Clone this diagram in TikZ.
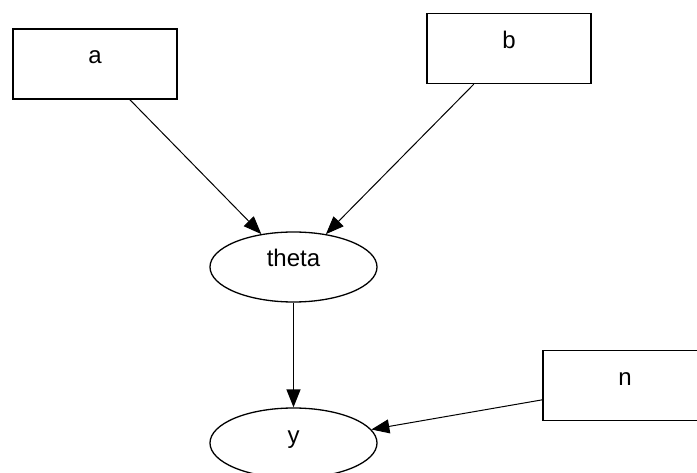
\documentclass[tikz,border=0pt]{standalone}
\usepackage{fontspec}
\setmainfont{Liberation Sans}
\usetikzlibrary{arrows.meta,shapes.geometric}
\tikzset{
  every node/.style={font=\fontsize{24}{28}\selectfont, text height=0pt, text depth=0pt, inner sep=0pt},
  varbox/.style={draw, line width=1.3pt, rectangle, minimum width=164pt, minimum height=70pt},
  varoval/.style={draw, line width=1.3pt, ellipse, minimum width=167pt, minimum height=70pt},
  dep/.style={draw, line width=1pt, -{Triangle[length=18pt,width=14pt]}}
}
\begin{document}
\begin{tikzpicture}[x=1pt,y=-1pt]
  \useasboundingbox (0,0) rectangle (697,473);
  \clip (0,0) rectangle (697,473);
  \fill[white] (0,0) rectangle (697,473);

  % nodes
  \node[varbox] (a) at (95,64) {a};
  \node[varbox] (b) at (509,48.5) {b};
  \node[varoval] (theta) at (293.5,267) {theta};
  \node[varoval] (y) at (293.5,443) {y};
  \node[varbox] (n) at (625,385.5) {n};

  % dependencies
  \draw[dep] (a) -- (theta);
  \draw[dep] (b) -- (theta);
  \draw[dep, line width=1.5pt] (theta) -- (y);
  \draw[dep] (n) -- (y);
\end{tikzpicture}
\end{document}
